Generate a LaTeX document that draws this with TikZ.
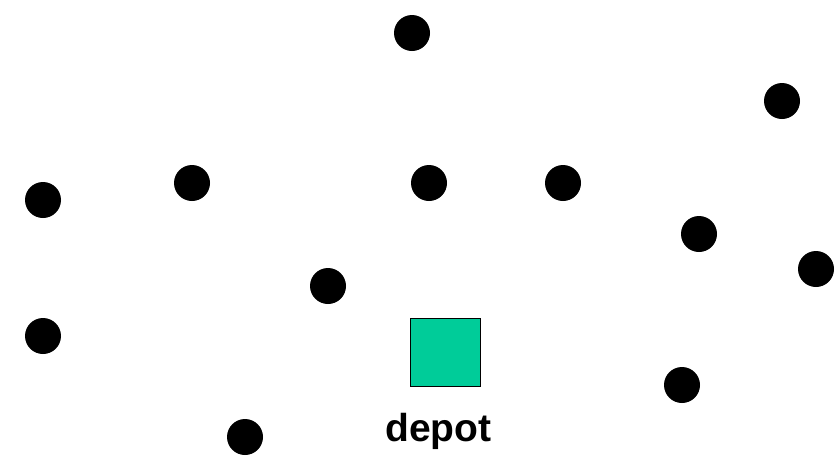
\documentclass[tikz,border=0pt]{standalone}
\usepackage{fontspec}
\setmainfont{Liberation Sans}
\usepackage{tikz}
\usetikzlibrary{positioning}
\definecolor{depotgreen}{RGB}{0,204,153}
\tikzset{
	customer/.style={circle,fill=black,minimum size=36pt,inner sep=0pt},
	depotbox/.style={draw=black,line width=1pt,fill=depotgreen,minimum width=70pt,minimum height=68pt,inner sep=0pt}
}

\begin{document}
\begin{tikzpicture}[x=1pt,y=-1pt]
		\useasboundingbox (0,0) rectangle (835,459);
		
		\node[customer] (c1) at (412,33) {};
		\node[customer] (c2) at (782,101) {};
		
		\node[customer] (c3) at (43,200) {};
		\node[customer] (c4) at (192,183) {};
		\node[customer] (c5) at (429,183) {};
		\node[customer] (c6) at (563,183) {};
		
		\node[customer] (c7) at (699,234) {};
		\node[customer] (c8) at (816,269) {};
		\node[customer] (c9) at (328,286) {};
		
		\node[customer] (c10) at (43,336) {};
		\node[customer] (c11) at (682,385) {};
		\node[customer] (c12) at (245,437) {};
		
		\node[depotbox] (depot) at (445,352) {};
		\node[below=26.5pt of depot,xshift=-6.5pt,inner sep=0pt,font=\fontsize{39}{41}\selectfont\bfseries] (depotlabel) {depot};
	\end{tikzpicture}
\end{document}
